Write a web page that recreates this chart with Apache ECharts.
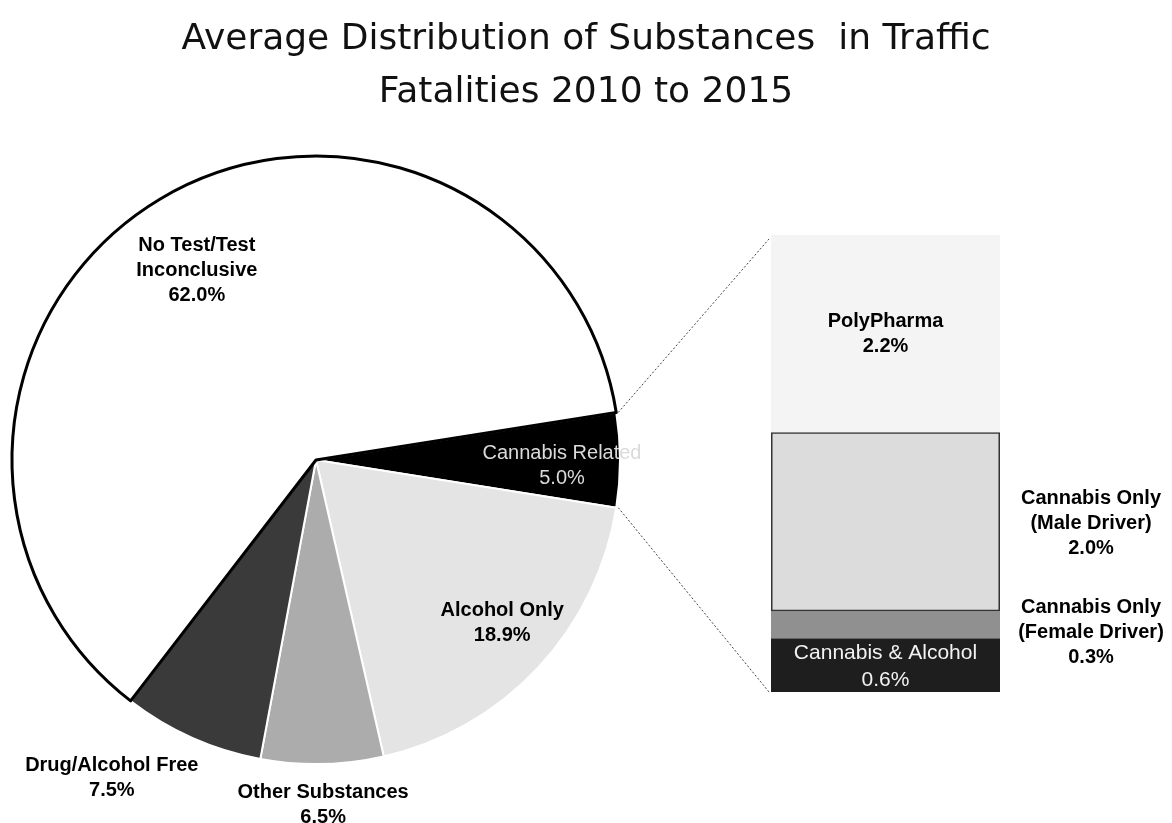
<!DOCTYPE html>
<html>
<head>
<meta charset="utf-8">
<script src="https://cdn.jsdelivr.net/npm/echarts@6/dist/echarts.min.js"></script>
<style>
  html, body { margin: 0; padding: 0; background: #fff; }
  #chart { width: 1172px; height: 823px; }
</style>
</head>
<body>
<div id="chart"></div>
<script>
// ---- data ----
const titleText = 'Average Distribution of Substances  in Traffic\nFatalities 2010 to 2015';
const pieNames = ['Cannabis Related', 'Alcohol Only', 'Other Substances', 'Drug/Alcohol Free', 'No Test/Test\nInconclusive'];
const pieValues = [5.0, 18.9, 6.5, 7.5, 62.0];
const barNames = ['Cannabis & Alcohol', 'Cannabis Only\n(Female Driver)', 'Cannabis Only\n(Male Driver)', 'PolyPharma'];
const barValues = [0.6, 0.3, 2.0, 2.2];

// ---- layout / style ----
const W = 1172, H = 823;
const PIE_CENTER = [316, 460];
const PIE_R = 304;
const START_ANGLE = 9;
const GRID = { left: 771, right: 172, top: 235, bottom: 131 };
const pieColors = ['#000000', '#e4e4e4', '#acacac', '#3a3a3a', '#ffffff'];
const barColors = ['#1e1e1e', '#909090', '#dcdcdc', '#f4f4f4'];
const pieLabelShift = [[91, 6], [73, 57], [4, 190], [-141, 176], [-40, -56]];
const FONT = "'Liberation Sans', Arial, sans-serif";

const chart = echarts.init(document.getElementById('chart'), null, { renderer: 'canvas' });

const fmt = p => p.name + '\n' + Number(p.value).toFixed(1) + '%';

const pieData = pieNames.map((n, i) => {
  const item = {
    name: n,
    value: pieValues[i],
    itemStyle: { color: pieColors[i], borderColor: '#ffffff', borderWidth: 2 }
  };
  if (i === 4) item.itemStyle = { color: '#ffffff', borderColor: '#000000', borderWidth: 3 };
  if (i === 0) item.label = { color: '#dadada', fontWeight: 'normal', fontSize: 20 };
  return item;
});

const barTotal = barValues.reduce((a, b) => a + b, 0);

const barSeries = barNames.map((n, i) => {
  const s = {
    type: 'bar',
    name: n,
    stack: 'c',
    barWidth: '100%',
    data: [{ name: n, value: barValues[i] }],
    itemStyle: { color: barColors[i] },
    emphasis: { disabled: true },
    label: {
      show: true,
      formatter: fmt,
      fontFamily: FONT,
      fontWeight: 'bold',
      fontSize: 20,
      lineHeight: 25,
      color: '#000',
      position: 'inside'
    }
  };
  if (i === 0) {
    s.label.color = '#f2f2f2';
    s.label.fontWeight = 'normal';
    s.label.fontSize = 21;
    s.label.lineHeight = 27;
    s.label.offset = [0, 2];
  }
  if (i === 1 || i === 2) {
    s.label.position = 'right';
    s.label.distance = 91;
    s.label.align = 'center';
    s.label.offset = i === 1 ? [0, 8] : [0, 2];
  }
  if (i === 2) {
    s.itemStyle.borderColor = '#333333';
    s.itemStyle.borderWidth = 1.5;
  }
  return s;
});

// connector lines from the cannabis slice edges to the stacked bar corners
const pieSum = pieValues.reduce((a, b) => a + b, 0);
const a0 = START_ANGLE * Math.PI / 180;
const a1 = (START_ANGLE - pieValues[0] / pieSum * 360) * Math.PI / 180;
const p0 = [PIE_CENTER[0] + PIE_R * Math.cos(a0), PIE_CENTER[1] - PIE_R * Math.sin(a0)];
const p1 = [PIE_CENTER[0] + PIE_R * Math.cos(a1), PIE_CENTER[1] - PIE_R * Math.sin(a1)];
const yTop = GRID.top;
const yBot = H - GRID.bottom;
const xBar = GRID.left;
const lineStyle = { stroke: '#444', lineWidth: 1, lineDash: [2, 2] };

const option = {
  animation: false,
  backgroundColor: '#ffffff',
  title: {
    text: titleText,
    left: 'center',
    top: 8,
    textStyle: {
      fontFamily: "'DejaVu Sans', sans-serif",
      fontWeight: 'normal',
      fontSize: 36,
      lineHeight: 53,
      color: '#111'
    }
  },
  grid: GRID,
  xAxis: { type: 'category', data: ['Cannabis Related'], show: false },
  yAxis: { type: 'value', min: 0, max: barTotal, show: false },
  graphic: [
    { type: 'line', shape: { x1: p0[0] + 2, y1: p0[1], x2: xBar - 2, y2: yTop + 4 }, style: lineStyle, silent: true },
    { type: 'line', shape: { x1: p1[0] + 2, y1: p1[1], x2: xBar - 2, y2: yBot }, style: lineStyle, silent: true }
  ],
  series: [
    {
      type: 'pie',
      center: PIE_CENTER,
      radius: PIE_R,
      startAngle: START_ANGLE,
      clockwise: true,
      avoidLabelOverlap: false,
      emphasis: { disabled: true },
      label: {
        show: true,
        position: 'inside',
        formatter: fmt,
        fontFamily: FONT,
        fontWeight: 'bold',
        fontSize: 20,
        lineHeight: 25,
        color: '#000'
      },
      labelLine: { show: false },
      labelLayout: p => ({ dx: pieLabelShift[p.dataIndex][0], dy: pieLabelShift[p.dataIndex][1] }),
      data: pieData
    }
  ].concat(barSeries)
};

chart.setOption(option);
</script>
</body>
</html>
